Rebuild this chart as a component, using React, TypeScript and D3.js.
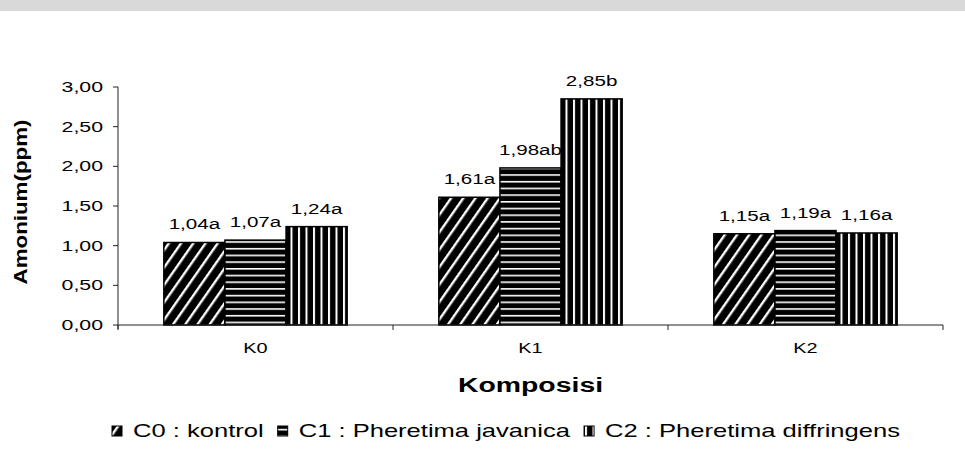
import React from "react";
import * as d3 from "d3";

// Amonium (ppm) per composition, three earthworm treatments
const categories = ["K0", "K1", "K2"];
const seriesKeys = ["C0", "C1", "C2"];
const seriesNames = ["C0 : kontrol", "C1 : Pheretima javanica", "C2 : Pheretima diffringens"];
const c0Values = [1.04, 1.61, 1.15];
const c1Values = [1.07, 1.98, 1.19];
const c2Values = [1.24, 2.85, 1.16];
const c0Letters = ["a", "a", "a"];
const c1Letters = ["a", "ab", "a"];
const c2Letters = ["a", "b", "a"];
const yTicks = [0, 0.5, 1, 1.5, 2, 2.5, 3];

const W = 965;
const H = 464;
const FONT = "'Liberation Sans', Arial, Helvetica, sans-serif";
const SX = 1.42; // horizontal text stretch

const valuesBySeries = [c0Values, c1Values, c2Values];
const lettersBySeries = [c0Letters, c1Letters, c2Letters];
const patternIds = ["pat-diag", "pat-horiz", "pat-vert"];

const fmt = (v: number) => d3.format(".2f")(v).replace(".", ",");

function measure(text: string, size: number, weight = "normal") {
  if (typeof document === "undefined") return text.length * size * 0.55;
  const c = document.createElement("canvas");
  const ctx = c.getContext("2d");
  if (!ctx) return text.length * size * 0.55;
  ctx.font = `${weight} ${size}px 'Liberation Sans', Arial, sans-serif`;
  return ctx.measureText(text).width;
}

function SText(props: {
  x: number;
  y: number;
  size: number;
  anchor?: "start" | "middle" | "end";
  weight?: string;
  children: React.ReactNode;
}) {
  const { x, y, size, anchor = "start", weight = "normal", children } = props;
  return (
    <text
      transform={`translate(${x},${y}) scale(${SX},1)`}
      textAnchor={anchor}
      fontFamily={FONT}
      fontSize={size}
      fontWeight={weight}
      fill="#000"
    >
      {children}
    </text>
  );
}

export default function App() {
  const margin = { left: 118, right: 22, top: 87, bottom: 139 };
  const x = d3
    .scaleBand<string>()
    .domain(categories)
    .range([margin.left, W - margin.right])
    .padding(0);
  const xs = d3
    .scaleBand<string>()
    .domain(seriesKeys)
    .range([0, x.bandwidth()])
    .paddingInner(0)
    .paddingOuter(0.75);
  const y = d3.scaleLinear().domain([0, 3]).range([H - margin.bottom, margin.top]);

  const y0 = y(0);
  const xEnd = W - margin.right;

  // legend layout
  const legendSize = 18;
  const legendY = 437;
  let lx = 112;
  const legendItems = seriesNames.map((name, i) => {
    const item = { name, i, mx: lx, tx: lx + 21 };
    lx = item.tx + measure(name, legendSize) * SX + 14;
    return item;
  });

  return (
    <svg width={W} height={H} style={{ position: "absolute", left: 0, top: 0, background: "#fff" }}>
      <defs>
        <pattern id="pat-diag" width={10} height={10} patternUnits="userSpaceOnUse" patternTransform="rotate(35)">
          <rect width={10} height={10} fill="#000" />
          <rect x={0} y={0} width={2.4} height={10} fill="#fff" />
        </pattern>
        <pattern id="pat-horiz" width={8} height={6.7} patternUnits="userSpaceOnUse">
          <rect width={8} height={6.7} fill="#000" />
          <rect x={0} y={0} width={8} height={1.6} fill="#fff" />
        </pattern>
        <pattern id="pat-vert" width={7.5} height={8} patternUnits="userSpaceOnUse">
          <rect width={7.5} height={8} fill="#000" />
          <rect x={0} y={0} width={2} height={8} fill="#fff" />
        </pattern>
      </defs>

      {/* faint grey strip along the top edge */}
      <rect x={0} y={0} width={W} height={11} fill="#d9d9d9" />

      {/* y axis */}
      <line x1={margin.left} x2={margin.left} y1={y(3)} y2={y0 + 4} stroke="#222" strokeWidth={1} />
      {yTicks.map((t) => (
        <g key={t}>
          <line x1={margin.left - 5} x2={margin.left} y1={y(t)} y2={y(t)} stroke="#222" strokeWidth={1} />
          <SText x={margin.left - 15} y={y(t) + 5} size={15} anchor="end">
            {fmt(t)}
          </SText>
        </g>
      ))}

      {/* bars */}
      {categories.map((cat, ci) => (
        <g key={cat} transform={`translate(${x(cat)},0)`}>
          {seriesKeys.map((s, si) => {
            const v = valuesBySeries[si][ci];
            const bx = xs(s) as number;
            return (
              <rect
                key={s}
                x={bx}
                y={y(v)}
                width={xs.bandwidth()}
                height={y0 - y(v)}
                fill={`url(#${patternIds[si]})`}
                stroke="#000"
                strokeWidth={1.5}
              />
            );
          })}
        </g>
      ))}

      {/* x axis */}
      <line x1={margin.left} x2={xEnd} y1={y0} y2={y0} stroke="#222" strokeWidth={1} />
      {[...categories.map((c) => x(c) as number), xEnd].map((tx, i) => (
        <line key={i} x1={tx} x2={tx} y1={y0} y2={y0 + 5} stroke="#222" strokeWidth={1} />
      ))}
      {categories.map((cat) => (
        <SText key={cat} x={(x(cat) as number) + x.bandwidth() / 2} y={y0 + 28} size={14} anchor="middle">
          {cat}
        </SText>
      ))}

      {/* value labels */}
      {categories.map((cat, ci) =>
        seriesKeys.map((s, si) => {
          const v = valuesBySeries[si][ci];
          const cx = (x(cat) as number) + (xs(s) as number) + xs.bandwidth() / 2;
          return (
            <SText key={cat + s} x={cx} y={y(v) - 13} size={14.5} anchor="middle">
              {fmt(v) + lettersBySeries[si][ci]}
            </SText>
          );
        })
      )}

      {/* axis titles */}
      <SText x={(margin.left + xEnd) / 2} y={392} size={20} anchor="middle" weight="bold">
        Komposisi
      </SText>
      <text
        transform={`translate(27,${(y(3) + y0) / 2 - 4}) rotate(-90)`}
        textAnchor="middle"
        fontFamily={FONT}
        fontWeight="bold"
        fontSize={18}
        textLength={165}
        lengthAdjust="spacingAndGlyphs"
        fill="#000"
      >
        Amonium(ppm)
      </text>

      {/* legend */}
      {legendItems.map((it) => (
        <g key={it.name}>
          <rect
            x={it.mx}
            y={legendY - 11}
            width={10}
            height={10}
            fill={`url(#${patternIds[it.i]})`}
            stroke="#000"
            strokeWidth={1}
          />
          <SText x={it.tx} y={legendY} size={legendSize}>
            {it.name}
          </SText>
        </g>
      ))}
    </svg>
  );
}
